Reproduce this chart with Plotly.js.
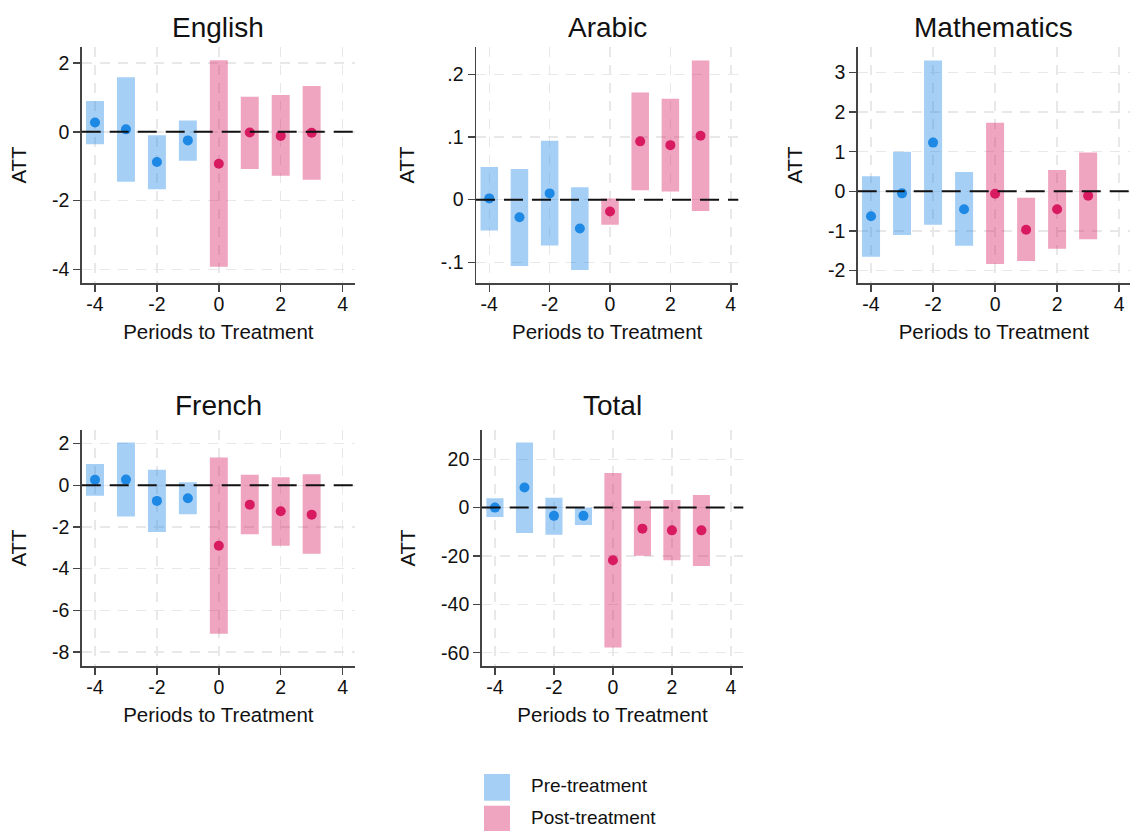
<!DOCTYPE html>
<html>
<head>
<meta charset="utf-8">
<script src="https://cdn.plot.ly/plotly-3.0.1.min.js"></script>
<style>
  html, body { margin: 0; padding: 0; background: #ffffff; }
  #chart { width: 1130px; height: 831px; }
</style>
</head>
<body>
<div id="chart"></div>
<script>
// ---------------- DATA ----------------
const prePeriods  = [-4, -3, -2, -1];
const postPeriods = [0, 1, 2, 3];

const englishPreEst  = [0.27, 0.07, -0.88, -0.25];
const englishPreLo   = [-0.36, -1.45, -1.67, -0.84];
const englishPreHi   = [0.89, 1.58, -0.10, 0.33];
const englishPostEst = [-0.93, -0.02, -0.12, -0.03];
const englishPostLo  = [-3.92, -1.08, -1.28, -1.39];
const englishPostHi  = [2.08, 1.02, 1.07, 1.33];

const arabicPreEst  = [0.002, -0.028, 0.010, -0.046];
const arabicPreLo   = [-0.049, -0.106, -0.073, -0.112];
const arabicPreHi   = [0.052, 0.049, 0.094, 0.020];
const arabicPostEst = [-0.019, 0.093, 0.087, 0.102];
const arabicPostLo  = [-0.040, 0.015, 0.013, -0.018];
const arabicPostHi  = [0.002, 0.171, 0.161, 0.222];

const mathPreEst  = [-0.63, -0.05, 1.23, -0.45];
const mathPreLo   = [-1.65, -1.10, -0.84, -1.37];
const mathPreHi   = [0.38, 1.00, 3.30, 0.49];
const mathPostEst = [-0.06, -0.97, -0.45, -0.11];
const mathPostLo  = [-1.83, -1.76, -1.45, -1.21];
const mathPostHi  = [1.73, -0.16, 0.54, 0.98];

const frenchPreEst  = [0.26, 0.27, -0.75, -0.62];
const frenchPreLo   = [-0.50, -1.50, -2.24, -1.39];
const frenchPreHi   = [1.02, 2.05, 0.74, 0.14];
const frenchPostEst = [-2.90, -0.93, -1.25, -1.41];
const frenchPostLo  = [-7.12, -2.35, -2.90, -3.28];
const frenchPostHi  = [1.33, 0.50, 0.38, 0.53];

const totalPreEst  = [0.0, 8.3, -3.4, -3.4];
const totalPreLo   = [-3.9, -10.5, -11.2, -7.2];
const totalPreHi   = [3.9, 26.9, 4.1, 0.1];
const totalPostEst = [-21.8, -8.7, -9.4, -9.4];
const totalPostLo  = [-57.9, -19.9, -21.8, -24.1];
const totalPostHi  = [14.3, 2.8, 3.2, 5.2];

const xTickVals = [-4, -2, 0, 2, 4];
const xTickText = ['-4', '-2', '0', '2', '4'];
const englishTickVals = [-4, -2, 0, 2];
const englishTickText = ['-4', '-2', '0', '2'];
const arabicTickVals = [-0.1, 0, 0.1, 0.2];
const arabicTickText = ['-.1', '0', '.1', '.2'];
const mathTickVals = [-2, -1, 0, 1, 2, 3];
const mathTickText = ['-2', '-1', '0', '1', '2', '3'];
const frenchTickVals = [-8, -6, -4, -2, 0, 2];
const frenchTickText = ['-8', '-6', '-4', '-2', '0', '2'];
const totalTickVals = [-60, -40, -20, 0, 20];
const totalTickText = ['-60', '-40', '-20', '0', '20'];

const seriesNames = ['Pre-treatment', 'Post-treatment'];
const xTitle = 'Periods to Treatment';
const yTitle = 'ATT';

// ---------------- STYLE ----------------
const W = 1130, H = 831;
const FONT = '"Liberation Sans", Arial, Helvetica, sans-serif';
const preBar = 'rgba(30,136,229,0.40)';
const postBar = 'rgba(216,27,96,0.40)';
const preDot = '#1E88E5';
const postDot = '#D81B60';

const panels = [
  { title: 'English', preEst: englishPreEst, preLo: englishPreLo, preHi: englishPreHi,
    postEst: englishPostEst, postLo: englishPostLo, postHi: englishPostHi,
    tv: englishTickVals, tt: englishTickText,
    px: [81.7, 355], py: [46.7, 283.3], xr: [-4.43, 4.40], yr: [-4.40, 2.47], ty: 27.5 },
  { title: 'Arabic', preEst: arabicPreEst, preLo: arabicPreLo, preHi: arabicPreHi,
    postEst: arabicPostEst, postLo: arabicPostLo, postHi: arabicPostHi,
    tv: arabicTickVals, tt: arabicTickText,
    px: [476, 738.3], py: [46.7, 283.3], xr: [-4.44, 4.25], yr: [-0.1334, 0.244], ty: 27.5 },
  { title: 'Mathematics', preEst: mathPreEst, preLo: mathPreLo, preHi: mathPreHi,
    postEst: mathPostEst, postLo: mathPostLo, postHi: mathPostHi,
    tv: mathTickVals, tt: mathTickText,
    px: [857.7, 1130], py: [46.7, 283.3], xr: [-4.43, 4.35], yr: [-2.32, 3.65], ty: 27.5 },
  { title: 'French', preEst: frenchPreEst, preLo: frenchPreLo, preHi: frenchPreHi,
    postEst: frenchPostEst, postLo: frenchPostLo, postHi: frenchPostHi,
    tv: frenchTickVals, tt: frenchTickText,
    px: [81.7, 355], py: [430, 666], xr: [-4.43, 4.40], yr: [-8.67, 2.65], ty: 405 },
  { title: 'Total', preEst: totalPreEst, preLo: totalPreLo, preHi: totalPreHi,
    postEst: totalPostEst, postLo: totalPostLo, postHi: totalPostHi,
    tv: totalTickVals, tt: totalTickText,
    px: [481.7, 743.3], py: [430, 666], xr: [-4.45, 4.42], yr: [-65.5, 32.1], ty: 405 }
];

const traces = [];
const layout = {
  width: W, height: H,
  margin: { l: 0, r: 0, t: 0, b: 0 },
  paper_bgcolor: '#ffffff', plot_bgcolor: '#ffffff',
  font: { family: FONT, color: '#111111', size: 19 },
  showlegend: false,
  barmode: 'overlay',
  shapes: [], annotations: []
};

const diff = (hi, lo) => hi.map((v, i) => v - lo[i]);

panels.forEach((p, k) => {
  const n = k === 0 ? '' : String(k + 1);
  const xa = 'x' + n, ya = 'y' + n;

  traces.push({ type: 'bar', x: prePeriods, base: p.preLo, y: diff(p.preHi, p.preLo),
    width: 0.58, marker: { color: preBar, line: { width: 0 } }, xaxis: xa, yaxis: ya,
    hoverinfo: 'skip', name: seriesNames[0] });
  traces.push({ type: 'bar', x: postPeriods, base: p.postLo, y: diff(p.postHi, p.postLo),
    width: 0.58, marker: { color: postBar, line: { width: 0 } }, xaxis: xa, yaxis: ya,
    hoverinfo: 'skip', name: seriesNames[1] });
  traces.push({ type: 'scatter', mode: 'markers', x: prePeriods, y: p.preEst,
    marker: { color: preDot, size: 10 }, xaxis: xa, yaxis: ya, hoverinfo: 'skip' });
  traces.push({ type: 'scatter', mode: 'markers', x: postPeriods, y: p.postEst,
    marker: { color: postDot, size: 10 }, xaxis: xa, yaxis: ya, hoverinfo: 'skip' });

  layout['xaxis' + n] = {
    domain: [p.px[0] / W, p.px[1] / W], anchor: ya, range: p.xr,
    tickmode: 'array', tickvals: xTickVals, ticktext: xTickText,
    showline: true, linecolor: '#444444', linewidth: 1.5,
    ticks: 'outside', ticklen: 7, tickwidth: 1.5, tickcolor: '#444444',
    ticklabelstandoff: -4,
    showgrid: true, gridcolor: '#E8E8E8', gridwidth: 1.5, griddash: '10px,8px',
    zeroline: false, tickfont: { size: 19.5, family: FONT, color: '#111111' },
    title: { text: xTitle, font: { size: 20.5, family: FONT, color: '#111111' }, standoff: 10 },
    fixedrange: true
  };
  layout['yaxis' + n] = {
    domain: [1 - p.py[1] / H, 1 - p.py[0] / H], anchor: xa, range: p.yr,
    tickmode: 'array', tickvals: p.tv, ticktext: p.tt,
    showline: true, linecolor: '#444444', linewidth: 1.5,
    ticks: 'outside', ticklen: 7, tickwidth: 1.5, tickcolor: '#444444',
    showgrid: true, gridcolor: '#E8E8E8', gridwidth: 1.5, griddash: '10px,8px',
    zeroline: false, tickfont: { size: 19.5, family: FONT, color: '#111111' },
    title: { text: yTitle, font: { size: 20.5, family: FONT, color: '#111111' }, standoff: 20 },
    fixedrange: true
  };

  layout.shapes.push({ type: 'line', xref: xa + ' domain', yref: ya,
    x0: 0, x1: 1, y0: 0, y1: 0, layer: 'above',
    line: { color: '#111111', width: 2, dash: '19px,9px' } });

  layout.annotations.push({ text: p.title, xref: xa + ' domain', x: 0.5, xanchor: 'center',
    yref: 'paper', y: 1 - p.ty / H, yanchor: 'middle', showarrow: false,
    font: { size: 28, family: FONT, color: '#111111' } });
});

// legend (manual)
const legendItems = [
  { label: seriesNames[0], color: preBar, top: 774, bottom: 800.7, cy: 785 },
  { label: seriesNames[1], color: postBar, top: 805.7, bottom: 831, cy: 817 }
];
legendItems.forEach(it => {
  layout.shapes.push({ type: 'rect', xref: 'paper', yref: 'paper',
    x0: 484 / W, x1: 510 / W, y0: 1 - it.bottom / H, y1: 1 - it.top / H,
    fillcolor: it.color, line: { width: 0 } });
  layout.annotations.push({ text: it.label, xref: 'paper', yref: 'paper',
    x: 529 / W, xanchor: 'left', y: 1 - it.cy / H, yanchor: 'middle', showarrow: false,
    font: { size: 19, family: FONT, color: '#111111' } });
});

Plotly.newPlot('chart', traces, layout, { displayModeBar: false, staticPlot: true });
</script>
</body>
</html>
